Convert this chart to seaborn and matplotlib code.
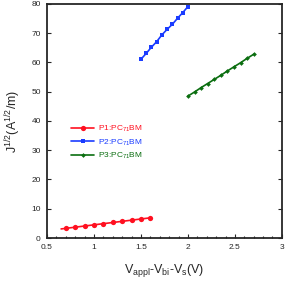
import numpy as np
import pandas as pd
import matplotlib
matplotlib.use("Agg")
import matplotlib.pyplot as plt
from matplotlib.ticker import MultipleLocator, FormatStrFormatter
import seaborn as sns

# data
p1_x = [0.65, 0.7, 0.8, 0.9, 1.0, 1.1, 1.2, 1.3, 1.4, 1.5, 1.6]
p1_y = [3.1, 3.3, 3.7, 4.1, 4.5, 4.9, 5.3, 5.7, 6.1, 6.5, 6.9]

p2_x = [1.5, 1.556, 1.611, 1.667, 1.722, 1.778, 1.833, 1.889, 1.944, 2.0]
p2_y = [61.1, 63.1, 65.2, 67.1, 69.4, 71.3, 73.0, 75.1, 77.0, 79.1]

p3_x = [2.0, 2.07, 2.14, 2.21, 2.28, 2.35, 2.42, 2.49, 2.56, 2.63, 2.7]
p3_y = [48.5, 49.9, 51.4, 52.8, 54.2, 55.6, 57.1, 58.5, 59.9, 61.4, 62.8]

labels = ["P1:PC$_{71}$BM", "P2:PC$_{71}$BM", "P3:PC$_{71}$BM"]
colors = ["#ff1020", "#1a3cff", "#0b6e10"]

sns.set_style("ticks")
plt.rcParams['font.family'] = ['Liberation Sans', 'DejaVu Sans']
plt.rcParams['mathtext.fontset'] = 'custom'
plt.rcParams['mathtext.rm'] = 'Liberation Sans'
plt.rcParams['mathtext.it'] = 'Liberation Sans'
plt.rcParams['mathtext.default'] = 'regular'

fig = plt.figure(figsize=(2.85, 2.81), dpi=100)
ax = fig.add_axes([0.165, 0.153, 0.824, 0.833])

df1 = pd.DataFrame({"x": p1_x, "y": p1_y})
df2 = pd.DataFrame({"x": p2_x, "y": p2_y})
df3 = pd.DataFrame({"x": p3_x, "y": p3_y})

sns.lineplot(data=df1, x="x", y="y", ax=ax, color=colors[0], marker="o",
             markersize=3.8, markeredgewidth=0, linewidth=1.2, label=labels[0],
             markevery=list(range(1, len(p1_x))))
sns.lineplot(data=df2, x="x", y="y", ax=ax, color=colors[1], marker="s",
             markersize=3.3, markeredgewidth=0, linewidth=1.2, label=labels[1])
sns.lineplot(data=df3, x="x", y="y", ax=ax, color=colors[2], marker="D",
             markersize=2.4, markeredgewidth=0, linewidth=1.2, label=labels[2])

ax.set_xlim(0.5, 3.0)
ax.set_ylim(0, 80)
ax.xaxis.set_major_locator(MultipleLocator(0.5))
ax.xaxis.set_minor_locator(MultipleLocator(0.1))
ax.xaxis.set_major_formatter(FormatStrFormatter('%g'))
ax.yaxis.set_major_locator(MultipleLocator(10))
ax.tick_params(which='both', direction='in', top=False, right=True,
               labelsize=6, width=0.8, pad=4.5)
ax.tick_params(which='major', length=3)
ax.tick_params(which='minor', length=1.5)
for s in ax.spines.values():
    s.set_linewidth(1.3)

ax.set_xlabel("V$_{appl}$-V$_{bi}$-V$_{s}$(V)", fontsize=9, labelpad=8)
ax.set_ylabel("J$^{1/2}$(A$^{1/2}$/m)", fontsize=9, labelpad=6)

leg = ax.legend(loc='upper left', bbox_to_anchor=(0.07, 0.52), frameon=False,
                fontsize=6, handlelength=2.8, labelspacing=0.4,
                handletextpad=0.4)
for t, c in zip(leg.get_texts(), colors):
    t.set_color(c)

fig.savefig("out.png", dpi=100)
